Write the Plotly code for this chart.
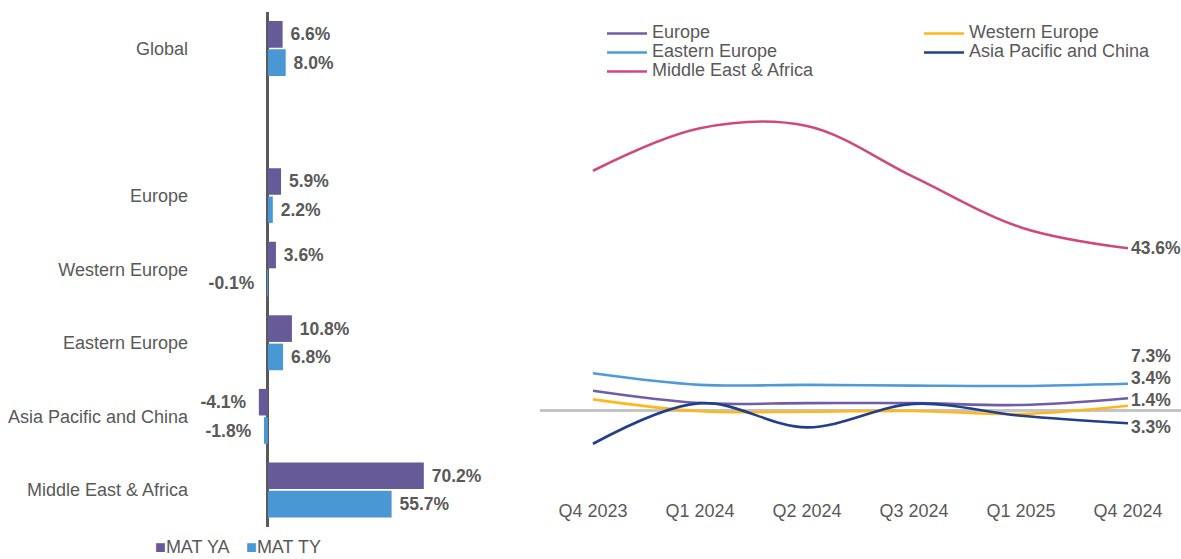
import plotly.graph_objects as go

W, H = 1181, 559

# ---- left panel: MAT growth by region ----
regions = ["Global", " ", "Europe", "Western Europe", "Eastern Europe",
           "Asia Pacific and China", "Middle East & Africa"]
mat_ya = [6.6, None, 5.9, 3.6, 10.8, -4.1, 70.2]
mat_ty = [8.0, None, 2.2, -0.1, 6.8, -1.8, 55.7]

# ---- right panel: quarterly trend by region ----
quarters = ["Q4 2023", "Q1 2024", "Q2 2024", "Q3 2024", "Q1 2025", "Q4 2024"]
europe = [5.4, 2.1, 2.1, 2.1, 1.6, 3.4]
western_europe = [3.1, -0.1, -0.2, 0.0, -0.8, 1.4]
eastern_europe = [10.1, 7.0, 7.0, 6.8, 6.7, 7.3]
asia_pacific = [-8.8, 2.1, -4.4, 1.9, -1.3, -3.3]
middle_east_africa = [64.4, 75.8, 76.4, 62.7, 49.2, 43.6]

FONT = "Liberation Sans, Arial, sans-serif"
GREY_TEXT = "#595959"
PURPLE = "#675A99"
BLUE = "#4A98D3"
NBSP = "\u00a0"


def bar_labels(values):
    out = []
    for v in values:
        if v is None:
            out.append("")
        elif v >= 0:
            out.append(NBSP + f"{v:.1f}%")
        else:
            out.append(f"{v:.1f}%" + NBSP * 2)
    return out


fig = go.Figure()

for name, vals, color in [("MAT YA", mat_ya, PURPLE), ("MAT TY", mat_ty, BLUE)]:
    fig.add_trace(go.Bar(
        name=name, y=regions, x=vals, orientation="h",
        marker=dict(color=color, line=dict(width=0)),
        text=bar_labels(vals), textposition="outside",
        outsidetextfont=dict(family=FONT, size=17.5, color=GREY_TEXT, weight="bold"),
        constraintext="none", cliponaxis=False, showlegend=False,
        xaxis="x", yaxis="y", hoverinfo="skip",
    ))

# (series, values, colour, legend column, label vertical offset in px)
line_series = [
    ("Europe", europe, "#6F5DA6", "legend", 20),
    ("Western Europe", western_europe, "#FFB71B", "legend2", 6),
    ("Eastern Europe", eastern_europe, "#4E9BD7", "legend", 28),
    ("Asia Pacific and China", asia_pacific, "#233E8B", "legend2", -4),
    ("Middle East & Africa", middle_east_africa, "#D0497B", "legend", 0),
]

annotations = []
for name, vals, color, leg, dy in line_series:
    fig.add_trace(go.Scatter(
        name=f'<span style="font-size:18px">{name}</span>',
        x=quarters, y=vals, mode="lines",
        line=dict(color=color, width=2.6, shape="spline", smoothing=1.0),
        xaxis="x2", yaxis="y2", legend=leg, cliponaxis=False,
    ))
    annotations.append(dict(
        x=quarters[-1], y=vals[-1], xref="x2", yref="y2",
        text=f"{abs(vals[-1]):.1f}%", showarrow=False,
        xanchor="left", yanchor="middle", xshift=1, yshift=dy,
        font=dict(family=FONT, size=17.5, color=GREY_TEXT, weight="bold"),
    ))

# legend for the bar panel
for label, color, xpx in [("MAT YA", PURPLE, 153), ("MAT TY", BLUE, 244)]:
    annotations.append(dict(
        x=xpx / W, y=1 - 546.5 / H, xref="paper", yref="paper",
        xanchor="left", yanchor="middle", showarrow=False,
        text=f'<span style="color:{color}">■</span>{label}',
        font=dict(family=FONT, size=18, color=GREY_TEXT),
    ))

fig.update_layout(
    width=W, height=H,
    margin=dict(l=0, r=0, t=0, b=0),
    paper_bgcolor="white", plot_bgcolor="white",
    font=dict(family=FONT, size=18, color=GREY_TEXT),
    barmode="group", bargap=0.23, bargroupgap=0.06,
    showlegend=True,
    xaxis=dict(
        domain=[196 / W, 460 / W], range=[-32.4, 86.5],
        showticklabels=False, ticks="", showgrid=False, showline=False,
        zeroline=True, zerolinecolor="#595959", zerolinewidth=3, anchor="y",
    ),
    yaxis=dict(
        domain=[1 - 526.7 / H, 1 - 11.7 / H], type="category",
        categoryorder="array", categoryarray=regions, range=[6.5, -0.5],
        showgrid=False, showline=False, zeroline=False, ticks="",
        tickfont=dict(family=FONT, size=18, color=GREY_TEXT),
        ticklabelstandoff=7, anchor="x",
    ),
    xaxis2=dict(
        domain=[539.5 / W, 1.0], type="category", range=[-0.5, 5.495],
        showgrid=False, showline=False, zeroline=False, ticks="",
        tickfont=dict(family=FONT, size=18, color=GREY_TEXT),
        ticklabelstandoff=5, anchor="y2",
    ),
    yaxis2=dict(
        domain=[1 - 493 / H, 1 - 93.9 / H], range=[-22, 85],
        showticklabels=False, ticks="", showgrid=False, showline=False,
        zeroline=True, zerolinecolor="#C4C4C4", zerolinewidth=2.5, anchor="x2",
    ),
    legend=dict(
        x=602 / W, y=1 - 19 / H, xanchor="left", yanchor="top",
        orientation="v", itemwidth=40, font=dict(family=FONT, size=12, color=GREY_TEXT),
        bgcolor="rgba(0,0,0,0)", tracegroupgap=0,
    ),
    legend2=dict(
        x=919 / W, y=1 - 19 / H, xanchor="left", yanchor="top",
        orientation="v", itemwidth=40, font=dict(family=FONT, size=12, color=GREY_TEXT),
        bgcolor="rgba(0,0,0,0)", tracegroupgap=0,
    ),
    annotations=annotations,
)

fig.write_html("out.html")
